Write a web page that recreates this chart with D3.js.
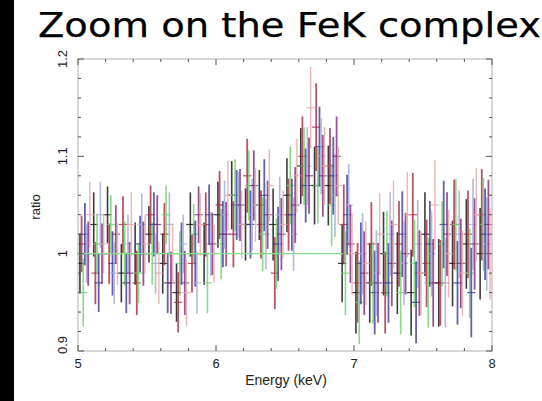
<!DOCTYPE html>
<html>
<head>
<meta charset="utf-8">
<script src="https://cdn.jsdelivr.net/npm/d3@7"></script>
<style>
  html, body { margin: 0; padding: 0; background: #fff; }
  svg { display: block; }
</style>
</head>
<body>
<div id="chart"></div>
<script>
// ---------- data ----------
const title = "Zoom on the FeK complex";
const xLabel = "Energy (keV)";
const yLabel = "ratio";
const xTicks = [5, 6, 7, 8];
const yTicks = [0.9, 1, 1.1, 1.2];
const xDomain = [5, 8];
const yDomain = [0.9, 1.2];
const binCenters = [5.05,5.15,5.25,5.35,5.45,5.55,5.65,5.75,5.85,5.95,
                    6.05,6.15,6.25,6.35,6.45,6.55,6.65,6.75,6.85,6.95,
                    7.05,7.15,7.25,7.35,7.45,7.55,7.65,7.75,7.85,7.95];
const binHalfWidth = 0.03;
const seriesNames = ["black","red","green","blue","lightblue","magenta","pink"];
const seriesOffsets = [-0.036,-0.024,-0.012,0.0,0.012,0.024,0.036];
const seriesColors = ["#1a1a1a","#a82840","#6ccf6c","#3a3a9a","#a8acd8","#7a2c78","#e8a8a8"];
const blackRatio   = [0.99,1.03,1.04,0.98,1.00,1.02,0.99,0.96,1.03,1.00,1.04,1.06,1.03,1.05,1.03,1.06,1.09,1.07,1.07,0.99,0.96,0.97,1.00,0.98,0.96,1.02,0.97,0.99,1.01,1.00];
const redRatio     = [1.01,0.98,1.00,1.03,0.97,1.04,1.02,0.95,0.99,1.03,1.05,1.02,1.08,1.03,0.98,1.04,1.10,1.13,1.09,1.03,0.97,1.01,0.96,1.01,1.04,0.99,0.97,1.03,1.02,1.04];
const greenRatio   = [0.96,1.01,1.03,1.00,0.98,1.00,1.04,0.99,1.02,0.97,1.01,1.06,1.07,1.02,1.00,1.07,1.09,1.07,1.05,0.98,0.95,0.97,1.00,0.96,0.99,0.97,1.01,1.03,0.98,1.03];
const blueRatio    = [1.02,0.97,0.99,0.97,1.01,1.03,0.97,1.00,1.00,1.04,1.02,1.05,1.03,1.06,1.01,1.04,1.07,1.11,1.08,1.04,0.99,0.96,0.97,1.02,0.95,1.01,1.03,0.97,0.96,1.02];
const ltblueRatio  = [1.00,1.04,0.98,1.01,1.03,0.99,1.03,1.01,0.97,1.01,1.04,1.05,1.04,1.02,1.04,1.02,1.09,1.10,1.06,1.05,1.00,0.98,1.02,0.99,1.01,1.00,0.97,1.02,1.03,1.01];
const magentaRatio = [1.00,1.00,1.02,0.98,1.00,1.03,0.97,0.97,1.04,1.01,1.02,1.05,1.07,1.04,1.02,1.05,1.08,1.08,1.10,1.01,0.98,0.97,0.99,1.00,0.98,0.97,1.02,0.99,1.01,1.03];
const pinkRatio    = [1.04,1.01,1.00,1.03,1.01,0.98,1.00,0.96,1.03,1.00,1.06,1.03,1.05,1.07,1.03,1.08,1.15,1.09,1.07,1.00,0.99,1.02,1.03,1.04,0.98,1.05,1.00,0.98,1.04,1.00];
const blackErr   = [0.031,0.033,0.029,0.030,0.032,0.029,0.031,0.030,0.033,0.032,0.034,0.035,0.037,0.036,0.037,0.038,0.039,0.040,0.041,0.040,0.042,0.041,0.043,0.042,0.044,0.043,0.045,0.044,0.046,0.047];
const redErr     = [0.029,0.032,0.031,0.029,0.033,0.030,0.032,0.031,0.030,0.033,0.035,0.034,0.038,0.035,0.037,0.037,0.041,0.045,0.039,0.041,0.041,0.043,0.042,0.044,0.043,0.045,0.044,0.046,0.045,0.047];
const greenErr   = [0.035,0.031,0.030,0.033,0.031,0.032,0.030,0.033,0.031,0.031,0.036,0.037,0.036,0.038,0.036,0.040,0.040,0.039,0.042,0.043,0.043,0.042,0.044,0.043,0.045,0.046,0.044,0.047,0.046,0.048];
const blueErr    = [0.032,0.030,0.033,0.031,0.029,0.033,0.031,0.032,0.034,0.031,0.034,0.036,0.035,0.037,0.038,0.037,0.038,0.041,0.040,0.041,0.042,0.043,0.041,0.044,0.042,0.044,0.045,0.043,0.046,0.047];
const ltblueErr  = [0.030,0.034,0.032,0.030,0.032,0.031,0.033,0.030,0.032,0.033,0.035,0.034,0.037,0.036,0.039,0.038,0.040,0.039,0.043,0.042,0.042,0.044,0.043,0.043,0.045,0.044,0.046,0.045,0.047,0.048];
const magentaErr = [0.033,0.031,0.030,0.032,0.033,0.030,0.032,0.033,0.029,0.032,0.033,0.037,0.036,0.035,0.037,0.039,0.039,0.042,0.041,0.040,0.043,0.041,0.044,0.042,0.044,0.045,0.043,0.046,0.047,0.046];
const pinkErr    = [0.034,0.030,0.032,0.033,0.030,0.032,0.031,0.034,0.032,0.030,0.036,0.035,0.038,0.037,0.035,0.038,0.042,0.040,0.040,0.042,0.043,0.042,0.045,0.044,0.043,0.046,0.045,0.044,0.048,0.047];
const modelLineX = [5.0, 6.92];
const modelLineY = [1.0, 1.0];

const seriesRatios = [blackRatio, redRatio, greenRatio, blueRatio, ltblueRatio, magentaRatio, pinkRatio];
const seriesErrs   = [blackErr, redErr, greenErr, blueErr, ltblueErr, magentaErr, pinkErr];
const seriesWidths = [1.6, 1.8, 1.6, 1.8, 1.6, 1.8, 1.4];
const seriesOpacity = [0.85, 0.8, 0.8, 0.8, 0.85, 0.8, 0.85];

// ---------- layout ----------
const W = 542, H = 401;

const svg = d3.select("#chart").append("svg")
  .attr("width", W).attr("height", H);

svg.append("rect").attr("x", 0).attr("y", 0).attr("width", W).attr("height", H).attr("fill", "#fff");
svg.append("rect").attr("x", 0).attr("y", 0).attr("width", 14).attr("height", H).attr("fill", "#000");

const x = d3.scaleLinear().domain(xDomain).range([78, 492]);
const y = d3.scaleLinear().domain(yDomain).range([351, 59]);

// title
svg.append("text")
  .attr("x", 38).attr("y", 37)
  .attr("font-family", "'Comic Sans MS', 'DejaVu Sans', sans-serif")
  .attr("font-size", 34)
  .attr("textLength", 503)
  .attr("lengthAdjust", "spacingAndGlyphs")
  .attr("fill", "#000")
  .attr("stroke", "#000").attr("stroke-width", 0.25)
  .text(title);

svg.append("clipPath").attr("id", "clip").append("rect")
  .attr("x", 78).attr("y", 59).attr("width", 414).attr("height", 292);

// data error bars
const plot = svg.append("g").attr("clip-path", "url(#clip)");
seriesRatios.forEach((vals, k) => {
  const g = plot.append("g")
    .attr("stroke", seriesColors[k])
    .attr("stroke-width", seriesWidths[k])
    .attr("stroke-opacity", seriesOpacity[k]);
  const data = vals.map((v, i) => ({e: binCenters[i] + seriesOffsets[k], r: v, err: seriesErrs[k][i]}));
  g.selectAll("line.v").data(data).enter().append("line")
    .attr("x1", d => x(d.e)).attr("x2", d => x(d.e))
    .attr("y1", d => y(d.r - d.err)).attr("y2", d => y(d.r + d.err));
  g.selectAll("line.h").data(data).enter().append("line")
    .attr("stroke-width", 1.2)
    .attr("x1", d => x(d.e - binHalfWidth)).attr("x2", d => x(d.e + binHalfWidth))
    .attr("y1", d => y(d.r)).attr("y2", d => y(d.r));
});

// model line
svg.append("line")
  .attr("x1", x(modelLineX[0])).attr("x2", x(modelLineX[1]))
  .attr("y1", y(modelLineY[0])).attr("y2", y(modelLineY[1]))
  .attr("stroke", "#88dd88").attr("stroke-width", 1.2);

// frame
svg.append("rect")
  .attr("x", 78).attr("y", 59).attr("width", 414).attr("height", 292)
  .attr("fill", "none").attr("stroke", "#b0b0b0").attr("stroke-width", 1);

// ticks
const tickColor = "#555";
const xMinor = d3.range(5, 8.0001, 0.2);
const yMinor = d3.range(0.9, 1.2001, 0.02);
const isMajorX = v => Math.abs(v - Math.round(v)) < 1e-6;
const isMajorY = v => Math.abs(v * 10 - Math.round(v * 10)) < 1e-6;
const tg = svg.append("g").attr("stroke", tickColor).attr("stroke-width", 1);
xMinor.forEach(v => {
  const L = isMajorX(v) ? 6 : 3;
  tg.append("line").attr("x1", x(v)).attr("x2", x(v)).attr("y1", 351).attr("y2", 351 - L);
  tg.append("line").attr("x1", x(v)).attr("x2", x(v)).attr("y1", 59).attr("y2", 59 + L);
});
yMinor.forEach(v => {
  const L = isMajorY(v) ? 6 : 3;
  tg.append("line").attr("x1", 78).attr("x2", 78 + L).attr("y1", y(v)).attr("y2", y(v));
  tg.append("line").attr("x1", 492).attr("x2", 492 - L).attr("y1", y(v)).attr("y2", y(v));
});

// tick labels
const lf = "'Liberation Sans', Arial, sans-serif";
svg.selectAll("text.xt").data(xTicks).enter().append("text")
  .attr("x", d => x(d)).attr("y", 368)
  .attr("text-anchor", "middle")
  .attr("font-family", lf).attr("font-size", 13).attr("fill", "#222")
  .text(d => d);
svg.selectAll("text.yt").data(yTicks).enter().append("text")
  .attr("transform", d => `translate(67,${d === 0.9 ? y(d) - 6 : y(d)}) rotate(-90)`)
  .attr("text-anchor", "middle")
  .attr("font-family", lf).attr("font-size", 13).attr("fill", "#222")
  .text(d => d);

svg.append("text")
  .attr("x", 286).attr("y", 385)
  .attr("text-anchor", "middle")
  .attr("font-family", lf).attr("font-size", 14).attr("fill", "#222")
  .text(xLabel);
svg.append("text")
  .attr("transform", `translate(40,207) rotate(-90)`)
  .attr("text-anchor", "middle")
  .attr("font-family", lf).attr("font-size", 13).attr("fill", "#222")
  .text(yLabel);
</script>
</body>
</html>
